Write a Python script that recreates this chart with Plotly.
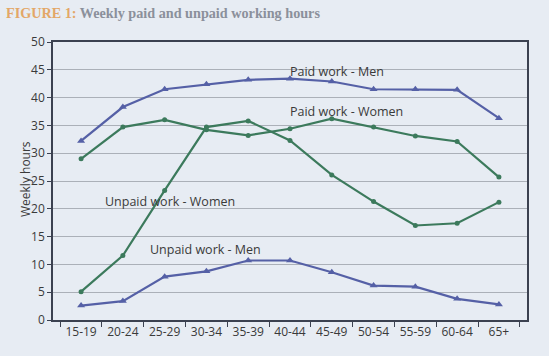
import plotly.graph_objects as go

categories = ["15-19", "20-24", "25-29", "30-34", "35-39", "40-44",
              "45-49", "50-54", "55-59", "60-64", "65+"]
paid_men = [32.2, 38.3, 41.5, 42.4, 43.2, 43.4, 42.9, 41.5, 41.5, 41.4, 36.3]
paid_women = [29.0, 34.7, 36.0, 34.2, 33.2, 34.4, 36.2, 34.7, 33.1, 32.1, 25.7]
unpaid_women = [5.1, 11.6, 23.3, 34.7, 35.8, 32.3, 26.1, 21.3, 17.0, 17.4, 21.2]
unpaid_men = [2.6, 3.4, 7.8, 8.75, 10.7, 10.7, 8.6, 6.2, 6.0, 3.8, 2.8]
y_ticks = [0, 5, 10, 15, 20, 25, 30, 35, 40, 45, 50]

BLUE = "#5560a6"
GREEN = "#3c7a5c"
BG = "#e7ecf3"
FRAME = "#3b4150"
TXT = "#3a3a3a"

fig = go.Figure()

def add(vals, color, symbol, size):
    fig.add_trace(go.Scatter(
        x=categories, y=vals, mode="lines+markers",
        line=dict(color=color, width=2.2),
        marker=dict(color=color, symbol=symbol, size=size),
        showlegend=False, hoverinfo="skip"))

add(paid_men, BLUE, "triangle-up", 7)
add(paid_women, GREEN, "circle", 5)
add(unpaid_women, GREEN, "circle", 5)
add(unpaid_men, BLUE, "triangle-up", 7)

labels = [
    ("Paid work - Men", 5.0, 44.7),
    ("Paid work - Women", 5.0, 37.5),
    ("Unpaid work - Women", 0.58, 21.3),
    ("Unpaid work - Men", 1.65, 12.6),
]
for text, xi, yv in labels:
    fig.add_annotation(x=xi, y=yv, xref="x", yref="y", text=text,
                       showarrow=False, xanchor="left", yanchor="middle",
                       xshift=-2,
                       font=dict(family="Open Sans", size=12.5, color=TXT))

fig.add_annotation(
    x=0.0, y=1.0, xref="paper", yref="paper", xanchor="left", yanchor="middle",
    xshift=-49, yshift=29,
    text="<b><span style='color:#e3a767'>FIGURE 1:</span> "
         "<span style='color:#8b909b'>Weekly paid and unpaid working hours</span></b>",
    showarrow=False, font=dict(family="Liberation Serif", size=14.2))

fig.add_annotation(
    x=0.0, y=0.5, xref="paper", yref="paper", xanchor="center",
    yanchor="middle", xshift=-28, yshift=2, textangle=-90,
    text="Weekly hours", showarrow=False,
    font=dict(family="Open Sans", size=12, color=TXT))

fig.update_layout(
    width=549, height=356,
    margin=dict(l=53, r=22, t=42, b=36, autoexpand=False),
    paper_bgcolor=BG, plot_bgcolor=BG,
    font=dict(family="Open Sans", size=12, color=TXT),
    xaxis=dict(type="category", showgrid=False, ticks="outside",
               tickson="boundaries", ticklen=5, tickcolor=FRAME,
               showline=True, linecolor=FRAME, linewidth=1.5, mirror=True,
               tickfont=dict(size=12, color=TXT), zeroline=False,
               automargin=False),
    yaxis=dict(range=[0, 50], tickvals=y_ticks, showgrid=True,
               gridcolor="#abb0b8", gridwidth=1, ticks="outside", ticklen=4,
               tickcolor=FRAME, showline=True, linecolor=FRAME, linewidth=1.5,
               mirror=True, zeroline=False, automargin=False,
               tickfont=dict(size=12, color=TXT)),
)

fig.write_html("out.html",
               config={"displayModeBar": False},
               post_script="document.body.style.margin='0';"
                           "document.body.style.background='" + BG + "';")
